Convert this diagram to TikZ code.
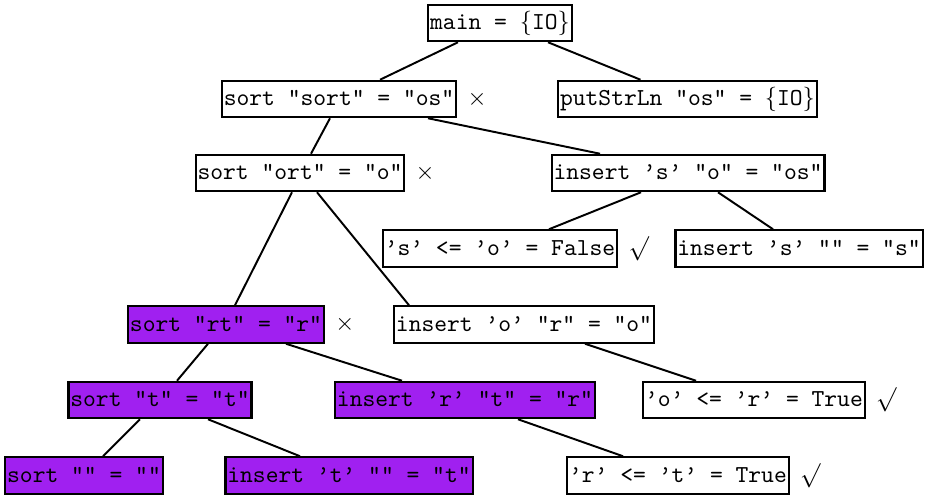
\documentclass[tikz,border=0pt]{standalone}
\usepackage{tikz}
\usetikzlibrary
  {
    positioning,              % place the marks next to their nodes
  }
\definecolor{evalpurple}{RGB}{160,32,240}

\begin{document}
\begin{tikzpicture}
    [
      x=0.41pt, y=-0.41pt,
      expr/.style=
        {
          rectangle,
          draw=black,
          line width=0.9pt,
          font=\ttfamily,
          inner xsep=0.8pt,
          inner ysep=2.2pt,
          text height=8pt,
          text depth=2.5pt,
        },
      active/.style=
        {
          expr,
          fill=evalpurple,
        },
      verdict/.style=
        {
          inner sep=1pt,
        },
      edge/.style=
        {
          thick,
        },
    ]
    \useasboundingbox (0,0) rectangle (930,496);

    \node[expr]   (main)  at (500,23)    {main = $\{$IO$\}$};
    \node[expr]   (sortA) at (339,99)    {sort "sort" = "os"};
    \node[expr]   (putS)  at (687.5,99)  {putStrLn "os" = $\{$IO$\}$};
    \node[expr]   (sortB) at (300,173)   {sort "ort" = "o"};
    \node[expr]   (insS)  at (688,173)   {insert ’s’ "o" = "os"};
    \node[expr]   (cmpSO) at (500,248.5) {’s’ <= ’o’ = False};
    \node[expr]   (insSE) at (799,248.5) {insert ’s’ "" = "s"};
    \node[active] (sortC) at (226,324.5) {sort "rt" = "r"};
    \node[expr]   (insO)  at (524,324.5) {insert ’o’ "r" = "o"};
    \node[active] (sortD) at (160,400)   {sort "t" = "t"};
    \node[active] (insR)  at (465,400)   {insert ’r’ "t" = "r"};
    \node[expr]   (cmpOR) at (754,400)   {’o’ <= ’r’ = True};
    \node[active] (sortE) at (84,475.5)  {sort "" = ""};
    \node[active] (insT)  at (349,475.5) {insert ’t’ "" = "t"};
    \node[expr]   (cmpRT) at (678,475.5) {’r’ <= ’t’ = True};

    \node[verdict] (sortAx) [right=3pt of sortA] {$\times$};
    \node[verdict] (sortBx) [right=3pt of sortB] {$\times$};
    \node[verdict] (sortCx) [right=3pt of sortC] {$\times$};
    \node[verdict] (cmpSOy) [right=3pt of cmpSO] {$\surd$};
    \node[verdict] (cmpORy) [right=3pt of cmpOR] {$\surd$};
    \node[verdict] (cmpRTy) [right=3pt of cmpRT] {$\surd$};

    \draw [edge] ([shift={(-42,0)}]main.south)  -- ([shift={(41,0)}]sortA.north);
    \draw [edge] ([shift={(48,0)}]main.south)   -- ([shift={(-47,0)}]putS.north);
    \draw [edge] ([shift={(-9,0)}]sortA.south)  -- ([shift={(11,0)}]sortB.north);
    \draw [edge] ([shift={(89,0)}]sortA.south)  -- ([shift={(-88,0)}]insS.north);
    \draw [edge] ([shift={(-8,0)}]sortB.south)  -- ([shift={(9,0)}]sortC.north);
    \draw [edge] ([shift={(17,0)}]sortB.south)  -- ([shift={(-115,0)}]insO.north);
    \draw [edge] ([shift={(-47,0)}]insS.south)  -- ([shift={(49,0)}]cmpSO.north);
    \draw [edge] ([shift={(30,0)}]insS.south)   -- ([shift={(-26,0)}]insSE.north);
    \draw [edge] ([shift={(-18,0)}]sortC.south) -- ([shift={(17,0)}]sortD.north);
    \draw [edge] ([shift={(60,0)}]sortC.south)  -- ([shift={(-63,0)}]insR.north);
    \draw [edge] ([shift={(61,0)}]insO.south)   -- ([shift={(-58,0)}]cmpOR.north);
    \draw [edge] ([shift={(-20,0)}]sortD.south) -- ([shift={(19,0)}]sortE.north);
    \draw [edge] ([shift={(48,0)}]sortD.south)  -- ([shift={(-49,0)}]insT.north);
    \draw [edge] ([shift={(53,0)}]insR.south)   -- ([shift={(-55,0)}]cmpRT.north);
  \end{tikzpicture}
\end{document}
